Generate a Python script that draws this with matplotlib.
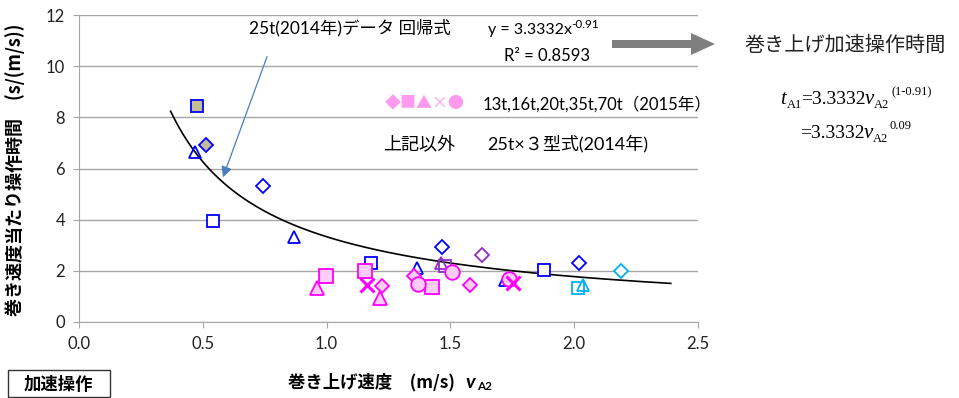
# 巻き上げ速度と加速操作時間の散布図
import numpy as np
import matplotlib
matplotlib.use("Agg")
import matplotlib.pyplot as plt
from matplotlib.patches import FancyArrow, Rectangle
from matplotlib.transforms import IdentityTransform

plt.rcParams['font.family'] = ['Lato', 'Noto Sans CJK JP', 'DejaVu Sans']

# 2014年 25t×3型式
blue_d_x = [0.743, 1.466, 2.02]
blue_d_y = [5.31, 2.93, 2.30]
blue_s_x = [0.541, 1.18, 1.878]
blue_s_y = [3.95, 2.30, 2.03]
blue_t_x = [0.868, 1.365, 1.72, 0.469]
blue_t_y = [3.32, 2.11, 1.64, 6.64]
tan_d_x, tan_d_y = [0.513], [6.91]
tan_s_x, tan_s_y = [0.477], [8.44]
purple_d_x, purple_d_y = [1.628], [2.62]
purple_s_x, purple_s_y = [1.48], [2.19]
purple_t_x, purple_t_y = [1.462], [2.30]
cyan_d_x, cyan_d_y = [2.19], [2.00]
cyan_s_x, cyan_s_y = [2.015], [1.33]
cyan_t_x, cyan_t_y = [2.035], [1.45]

# 2015年 13t,16t,20t,35t,70t
pink_d_x = [1.224, 1.353, 1.579]
pink_d_y = [1.41, 1.80, 1.45]
pink_s_x = [0.998, 1.155, 1.426]
pink_s_y = [1.80, 2.00, 1.37]
pink_t_x = [0.961, 1.216]
pink_t_y = [1.33, 0.94]
pink_x_x = [1.163, 1.753]
pink_x_y = [1.45, 1.52]
pink_o_x = [1.369, 1.506, 1.737]
pink_o_y = [1.48, 1.95, 1.68]

# 回帰式 y = a x^b
fit_a = 3.3332
fit_b = -0.91
fit_x_min, fit_x_max = 0.37, 2.39

x_ticks = [0.0, 0.5, 1.0, 1.5, 2.0, 2.5]
y_ticks = [0, 2, 4, 6, 8, 10, 12]

W, H = 959, 398
def fx(x):
  return x / W
def fy(y):
  return 1 - y / H

fig = plt.figure(figsize=(W / 100, H / 100), dpi=100)
ax = fig.add_axes([fx(79), fy(322), fx(698) - fx(79), fy(15) - fy(322)])

grid_c = '#A6A6A6'
ax.set_xlim(0, 2.5)
ax.set_ylim(0, 12)
ax.set_xticks(x_ticks)
ax.set_xticklabels([f"{v:.1f}" for v in x_ticks])
ax.set_yticks(y_ticks)
ax.grid(axis='y', color=grid_c, lw=1)
ax.set_axisbelow(True)
for s in ['top', 'right']:
  ax.spines[s].set_visible(False)
for s in ['left', 'bottom']:
  ax.spines[s].set_color(grid_c)
ax.tick_params(length=4, color=grid_c, labelsize=12, labelcolor='#222222', pad=6)

# 回帰曲線
cx = np.linspace(fit_x_min, fit_x_max, 200)
ax.plot(cx, fit_a * cx ** fit_b, color='black', lw=1.2, zorder=2)

blue = '#0000FF'
def pts(x, y, m, ms, ec, fc='white', mew=1.3):
  ax.plot(x, y, ls='none', marker=m, ms=ms, mec=ec, mfc=fc, mew=mew, zorder=3)

pts(tan_s_x, tan_s_y, 's', 8.5, blue, '#C4BD97')
pts(tan_d_x, tan_d_y, 'D', 7.5, blue, '#C4BD97')
pts(blue_d_x, blue_d_y, 'D', 7, blue)
pts(blue_s_x, blue_s_y, 's', 8.5, blue)
pts(blue_t_x, blue_t_y, '^', 9, blue, 'none')
pts(purple_d_x, purple_d_y, 'D', 7, '#8E2DC5')
pts(purple_s_x, purple_s_y, 's', 8.5, '#8E2DC5', 'none')
pts(purple_t_x, purple_t_y, '^', 9, '#8E2DC5', 'none')
pts(cyan_d_x, cyan_d_y, 'D', 7, '#00B0F0')
pts(cyan_s_x, cyan_s_y, 's', 8.5, '#00B0F0')
pts(cyan_t_x, cyan_t_y, '^', 9, '#00B0F0', 'none')

pink_e, pink_f = '#FF00FF', '#FFCCF8'
pts(pink_d_x, pink_d_y, 'D', 7, pink_e, pink_f)
pts(pink_s_x, pink_s_y, 's', 10, pink_e, pink_f)
pts(pink_t_x, pink_t_y, '^', 10, pink_e, pink_f)
pts(pink_o_x, pink_o_y, 'o', 10.5, pink_e, pink_f)
pts(pink_x_x, pink_x_y, 'x', 9.5, pink_e, pink_f, mew=2.2)

# 軸ラベル
jp = ['Noto Sans CJK JP', 'Lato']
fig.text(fx(15), fy(170), '巻き速度当たり操作時間　(s/(m/s))', rotation=90,
         ha='center', va='center', fontsize=13, fontweight='bold', family=jp)
fig.text(fx(455), fy(382), '巻き上げ速度　(m/s)', ha='right', va='center',
         fontsize=12.5, fontweight='bold', family=jp)
fig.text(fx(470), fy(382), 'v', ha='center', va='center', fontsize=14,
         fontweight='bold', style='italic')
fig.text(fx(477), fy(387), 'A2', ha='left', va='center', fontsize=8.5, fontweight='bold')

# 加速操作の枠
fig.patches.append(Rectangle((fx(8), fy(397)), fx(102), fy(370) - fy(397),
                             transform=fig.transFigure, fill=False, ec='#333333', lw=1))
fig.text(fx(58), fy(385), '加速操作', ha='center', va='center', fontsize=12.5,
         fontweight='bold', family=['Noto Sans CJK JP'])

# 注記
fig.text(fx(350), fy(28), '25t(2014年)データ 回帰式', ha='center', va='center', fontsize=12.5)
fig.text(fx(488), fy(30), 'y = 3.3332x', ha='left', va='center', fontsize=11.5)
fig.text(fx(571), fy(24), '-0.91', ha='left', va='center', fontsize=8.5)
fig.text(fx(547), fy(56), 'R² = 0.8593', ha='center', va='center', fontsize=12)
ax.annotate('', xy=(222, H - 180), xycoords='figure pixels',
            xytext=(268, H - 54), textcoords='figure pixels',
            arrowprops=dict(arrowstyle='-|>', color='#4A7EBB', lw=0.9, mutation_scale=16))

fig.text(fx(385), fy(104), '◆■▲×●', ha='left', va='center', fontsize=11.5,
         color='#FF99EE', family=['Noto Sans CJK JP'])
fig.text(fx(483), fy(104), '13t,16t,20t,35t,70t（2015年）', ha='left', va='center', fontsize=12)
fig.text(fx(383), fy(144), '上記以外', ha='left', va='center', fontsize=13)
fig.text(fx(487), fy(144), '25t×３型式(2014年)', ha='left', va='center', fontsize=13)

# 右側の式
fig.add_artist(FancyArrow(612, H - 44, 103, 0, width=8, head_width=22, head_length=24,
                          length_includes_head=True, color='#7F7F7F', lw=0,
                          transform=IdentityTransform()))
fig.text(fx(845), fy(45), '巻き上げ加速操作時間', ha='center', va='center', fontsize=14.5,
         family=['Noto Sans CJK JP'], color='#222222')

serif = 'Liberation Serif'
def piece(x, y, s, size, style='normal'):
  fig.text(fx(x), fy(y), s, ha='left', va='baseline', fontsize=size,
           family=serif, style=style)

base1, base2 = 104, 138
piece(780, base1, 't', 15, 'italic')
piece(787, base1 + 4, 'A1', 9)
piece(801, base1, '=3.3332', 14)
piece(865, base1, 'v', 15, 'italic')
piece(874, base1 + 4, 'A2', 9)
piece(891, base1 - 9, '(1-0.91)', 9)
piece(800, base2, '=3.3332', 14)
piece(864, base2, 'v', 15, 'italic')
piece(873, base2 + 4, 'A2', 9)
piece(890, base2 - 9, '0.09', 9)

fig.savefig('out.png', dpi=100)
